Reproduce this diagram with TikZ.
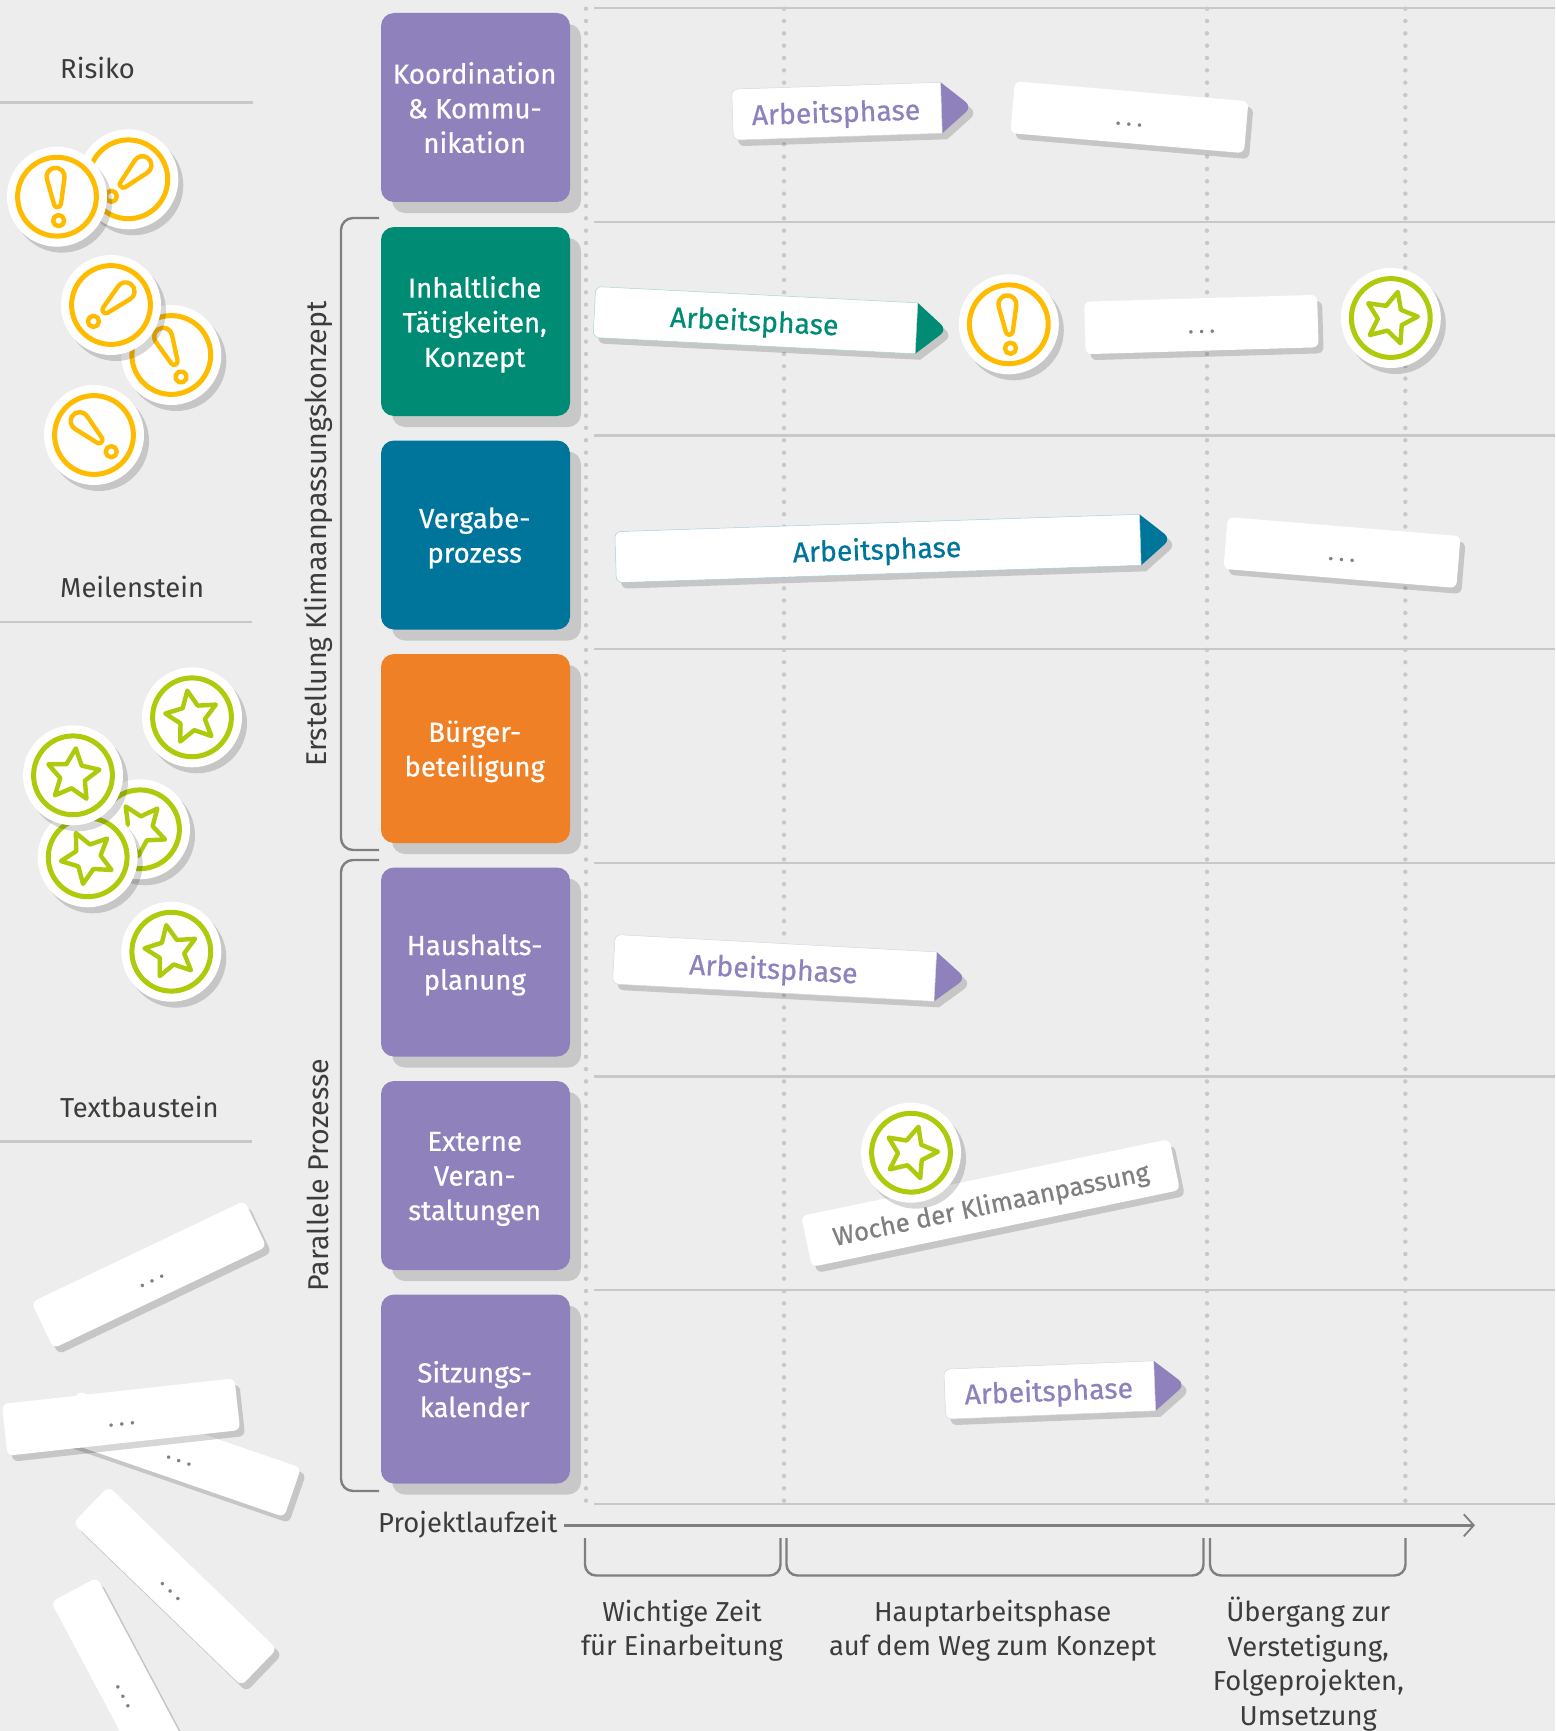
\documentclass[tikz,border=0pt]{standalone}
\usepackage{fontspec}
\usetikzlibrary{arrows.meta}
\setmainfont{Fira Sans}
\newfontfamily\medfont[FakeBold=0.6]{Fira Sans}
\definecolor{bgc}{HTML}{EDEDED}
\definecolor{rulec}{HTML}{C8C8C8}
\definecolor{lilac}{HTML}{8F82BC}
\definecolor{teal}{HTML}{008B74}
\definecolor{petrol}{HTML}{00759C}
\definecolor{orangec}{HTML}{F08026}
\definecolor{amber}{HTML}{FFBB00}
\definecolor{lime}{HTML}{AFCA0B}
\definecolor{midgray}{HTML}{7F7F7F}
\definecolor{dark}{HTML}{3C3C3B}
\tikzset{
  shad/.style={fill=black,fill opacity=.16},
  hrule/.style={draw=rulec,line width=2.6pt},
  dotline/.style={draw=rulec,line width=4.4pt,line cap=round,dash pattern=on 0pt off 12.33pt},
  grayline/.style={draw=midgray,line width=2.4pt},
  cattext/.style={inner sep=0pt,align=center,text=white,font=\fontsize{27.6}{34.6}\selectfont\medfont},
  chiptext/.style={inner sep=0pt,transform shape,font=\fontsize{28.4}{30}\selectfont\medfont},
  wochetext/.style={inner sep=0pt,transform shape,font=\fontsize{25.8}{30}\selectfont\medfont},
  dotstext/.style={inner sep=0pt,transform shape,text=midgray,font=\fontsize{23}{26}\selectfont\medfont},
  lab/.style={inner sep=0pt,text=dark,font=\fontsize{27.4}{34.5}\selectfont,align=center},
  sidelab/.style={lab,font=\fontsize{28.6}{34.5}\selectfont},
  ringline/.style={line width=5pt},
  markline/.style={line width=4.4pt,line join=round},
}
\newcommand{\threedots}{.\kern5.2pt.\kern5.2pt.}
% category box: name, top y, colour, text
\newcommand{\categ}[4]{%
  \fill[rulec,rounded corners=13pt] (392,#2+11) rectangle (581,#2+200);
  \fill[#3,rounded corners=13pt] (381,#2) rectangle (570,#2+189);
  \node[cattext] (#1) at (474.7,#2+98) {\rule{0pt}{20pt}#4\rule[-7pt]{0pt}{7pt}};}
\newcommand{\dotchip}[6]{%
  \fill[shad,shift={(#2+5,#3+6)},rotate=#6,rounded corners=6pt] (-#4/2,-#5/2) rectangle (#4/2,#5/2);
  \fill[white,shift={(#2,#3)},rotate=#6,rounded corners=6pt] (-#4/2,-#5/2) rectangle (#4/2,#5/2);
  \begin{scope}[shift={(#2,#3)},rotate=#6]
    \node[dotstext] (#1) at (0,7) {\threedots};
  \end{scope}}
% arrow chip: name, x left centre, y left centre, length, height, rotation, colour
\newcommand{\arrowchip}[7]{%
  \begin{scope}[shift={(#2+5,#3+6)},rotate=#6]
    \fill[shad] (6,-#5/2) -- (#4,-#5/2) [rounded corners=8pt] -- (#4+30.5,0) [sharp corners] -- (#4,#5/2) -- (6,#5/2) [rounded corners=6pt] -- (0,#5/2) -- (0,-#5/2) -- cycle;
  \end{scope}
  \begin{scope}[shift={(#2,#3)},rotate=#6]
    \fill[#7] (#4,-#5/2) [rounded corners=8pt] -- (#4+30.5,0) [sharp corners] -- (#4,#5/2) -- cycle;
    \filldraw[fill=white,draw=#7!35,line width=.5pt,rounded corners=6pt] (0,-#5/2) -- (0,#5/2) [sharp corners] -- (#4,#5/2) -- (#4,-#5/2) [rounded corners=6pt] -- cycle;
    \node[chiptext,text=#7] (#1) at (#4/2-1,3) {Arbeitsphase};
  \end{scope}}
% coins: cx, cy, rotation
\newcommand{\coinbase}[3]{%
  \fill[shad] (#1+5,#2+6) circle[radius=50pt];
  \fill[white] (#1,#2) circle[radius=50pt];
  \draw[#3,ringline] (#1,#2) circle[radius=39.4pt];}
\newcommand{\riskcoin}[3]{%
  \coinbase{#1}{#2}{amber}
  \begin{scope}[shift={(#1,#2)},rotate=#3,x=1pt,y=1pt]
    \draw[amber,markline] (8.81,18.17) -- (3.43,-7.71) arc[start angle=-11.75,end angle=-168.25,radius=3.5pt]
      -- (-8.81,18.17) arc[start angle=191.75,end angle=-11.75,radius=9pt] -- cycle;
    \draw[amber,markline] (0,-24) circle[radius=5.6pt];
  \end{scope}}
\newcommand{\starcoin}[3]{%
  \coinbase{#1}{#2}{lime}
  \begin{scope}[shift={(#1,#2)},rotate=#3,x=1pt,y=1pt]
    \draw[lime,markline] (90:27) -- (126:13) -- (162:27) -- (198:13) -- (234:27) -- (270:13) -- (306:27) -- (342:13) -- (18:27) -- (54:13) -- cycle;
  \end{scope}}
\begin{document}
\begin{tikzpicture}[x=1pt,y=-1pt]
\useasboundingbox (0,0) rectangle (1555,1731);
\clip (0,0) rectangle (1555,1731);
\fill[bgc] (0,0) rectangle (1555,1731);
% grid
\foreach \yy in {8,222,435.5,649,863,1076.5,1290,1504} \draw[hrule] (594,\yy) -- (1555,\yy);
\foreach \xx in {586,784,1207,1405.3} \draw[dotline] (\xx,8.7) -- (\xx,1503);
% left headings
\node[lab,anchor=base west] (risiko) at (60,78.5) {Risiko};
\node[lab,anchor=base west] (meilen) at (60,597.5) {Meilenstein};
\node[lab,anchor=base west] (textb) at (60,1117.5) {Textbaustein};
\draw[hrule] (0,102.5) -- (253,102.5);
\draw[hrule] (0,622) -- (252,622);
\draw[hrule] (0,1141.7) -- (252,1141.7);
% risk coins
\riskcoin{128.3}{179.3}{-45}
\riskcoin{57}{196.7}{4}
\riskcoin{171.3}{355}{24}
\riskcoin{111}{305}{-47}
\riskcoin{94}{435}{46}
% star coins
\starcoin{192}{717.3}{10}
\starcoin{140}{829.3}{32}
\starcoin{87.7}{857.3}{26}
\starcoin{73}{775.3}{-6}
\starcoin{171.3}{951.7}{10.6}
% loose chips
\dotchip{l1}{149}{1274.5}{236}{51}{25.5}
\dotchip{l3}{181}{1454}{236}{52}{-19}
\dotchip{l2}{121}{1417}{234}{52}{6.3}
\begin{scope}
  \clip (0,1460) rectangle (280,1690);
  \dotchip{l4}{175}{1586}{234}{51}{-44}
\end{scope}
\dotchip{l5}{129}{1693}{234}{52}{-62}
% categories
\categ{c1}{13}{lilac}{Koordination\\\& Kommu-\\nikation}
\categ{c2}{227}{teal}{Inhaltliche\\Tätigkeiten,\\Konzept}
\categ{c3}{440.5}{petrol}{Vergabe-\\prozess}
\categ{c4}{654}{orangec}{Bürger-\\beteiligung}
\categ{c5}{867.5}{lilac}{Haushalts-\\planung}
\categ{c6}{1081}{lilac}{Externe\\Veran-\\staltungen}
\categ{c7}{1294.5}{lilac}{Sitzungs-\\kalender}
% brackets
\draw[grayline,rounded corners=12pt] (379,218) -- (341,218) -- (341,850) -- (379,850);
\draw[grayline,rounded corners=12pt] (379,860) -- (341,860) -- (341,1491) -- (379,1491);
\node[sidelab,rotate=90] (b1) at (318,534) {Erstellung Klimaanpassungskonzept};
\node[sidelab,rotate=90] (b2) at (318,1175) {Parallele Prozesse};
% work phases
\arrowchip{a1}{732.5}{114.7}{209}{51}{1.9}{lilac}
\dotchip{d1}{1129.4}{117.2}{234.4}{52}{-4.9}
\arrowchip{a2}{594.4}{312}{322.5}{51}{-2.9}{teal}
\riskcoin{1008.8}{324.3}{4}
\dotchip{d2}{1201.4}{324.5}{233}{52.5}{1.7}
\starcoin{1390.8}{318}{-15}
\arrowchip{a3}{615.6}{557.2}{525}{51}{1.9}{petrol}
\dotchip{d3}{1342}{552.5}{233.6}{52}{-4.7}
\arrowchip{a5}{613.8}{959.2}{322}{49.5}{-3.1}{lilac}
\fill[shad,shift={(995.6,1209)},rotate=11.8,rounded corners=6pt] (-188,-26) rectangle (188,26);
\fill[white,shift={(990.6,1203)},rotate=11.8,rounded corners=6pt] (-188,-26) rectangle (188,26);
\begin{scope}[shift={(990.6,1203)},rotate=11.8]
  \node[wochetext,text=midgray] (woche) at (0,3) {Woche der Klimaanpassung};
\end{scope}
\starcoin{911}{1152.7}{-16}
\arrowchip{a7}{944.8}{1394.2}{210}{50}{2.3}{lilac}
% time axis
\node[lab,anchor=base west] (pl) at (378,1532) {Projektlaufzeit};
\coordinate (axisA) at (564,1525.3);
\coordinate (axisB) at (1475,1525.3);
\draw[grayline,-{Straight Barb[length=10pt,width=22pt,line width=1.8pt]}] (axisA) -- (axisB);
\draw[grayline,rounded corners=11pt] (585,1538) -- (585,1575.5) -- (780.5,1575.5) -- (780.5,1538);
\draw[grayline,rounded corners=11pt] (786.5,1538) -- (786.5,1575.5) -- (1203.5,1575.5) -- (1203.5,1538);
\draw[grayline,rounded corners=11pt] (1210,1538) -- (1210,1575.5) -- (1405.5,1575.5) -- (1405.5,1538);
\node[lab] (t1) at (682,1630.5) {Wichtige Zeit\\für Einarbeitung};
\node[lab] (t2) at (992.7,1630.5) {Hauptarbeitsphase\\auf dem Weg zum Konzept};
\node[lab] (t3) at (1308.3,1664) {Übergang zur\\Verstetigung,\\Folgeprojekten,\\Umsetzung};
\end{tikzpicture}
\end{document}
